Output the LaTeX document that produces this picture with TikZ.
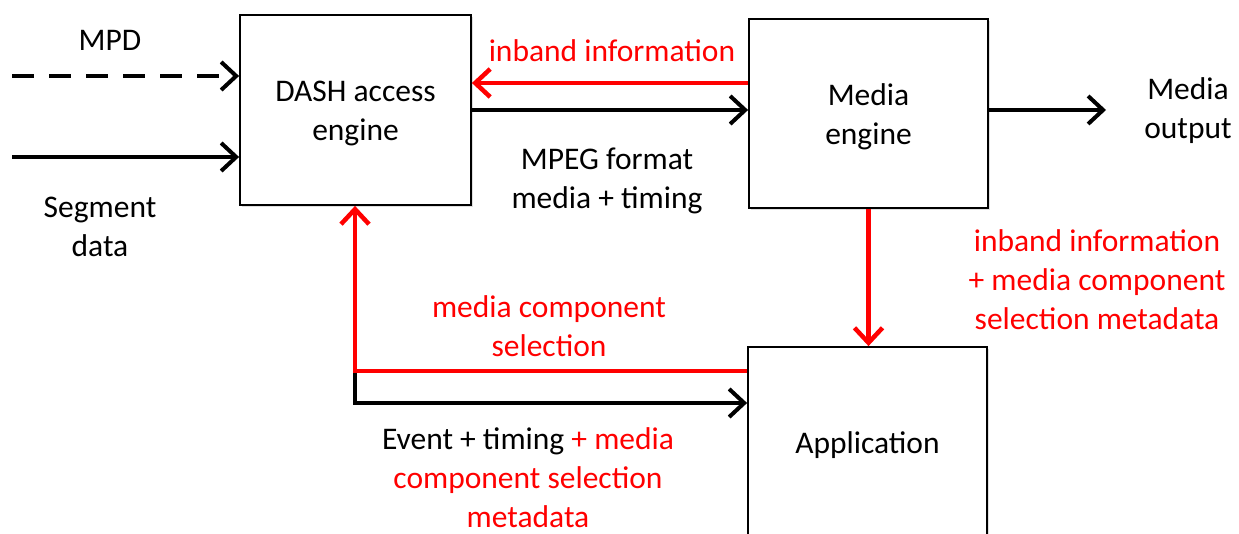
\documentclass[tikz,border=0pt]{standalone}
\usepackage{fontspec}
\setmainfont{Carlito}
\usetikzlibrary{arrows.meta,shadows}
\definecolor{myred}{RGB}{255,0,0}
\tikzset{
  blk/.style={draw=black,line width=1.8pt,fill=white,minimum width=231pt,minimum height=190pt,inner sep=0pt,
    drop shadow={opacity=0.25,shadow xshift=2pt,shadow yshift=-2pt}},
  lbl/.style={align=center,inner sep=0pt},
  conn/.style={line width=4pt,-{Straight Barb[length=15pt,width=28pt,line width=4pt]}},
  redconn/.style={conn,draw=myred,line width=4.5pt,-{Straight Barb[length=15pt,width=28pt,line width=4.5pt]}},
  dashconn/.style={conn,dash pattern=on 22pt off 15pt}
}
\begin{document}
\begin{tikzpicture}[x=1pt,y=-1pt,font=\fontsize{31.5}{39}\selectfont]
\useasboundingbox (0,0) rectangle (1239,534);
\clip (0,0) rectangle (1239,534);
\fill[white] (0,0) rectangle (1239,534);
% boxes
\node[blk] (dash) at (355.5,110) {};
\node[blk,minimum width=239pt,minimum height=189pt] (media) at (868.5,113.5) {};
\node[blk,minimum width=239pt,minimum height=192pt] (app) at (867.5,443) {};
\node[lbl] (dashtxt) at (355.5,113.5) {DASH access\\engine};
\node[lbl] (mediatxt) at (868.5,117) {Media\\engine};
\node[lbl] (apptxt) at (867.5,445) {Application};
% coordinates
\coordinate (mpdS) at (12,76);
\coordinate (segS) at (12,157);
\coordinate (outE) at (1106,110);
\coordinate (y83) at (0,83);
\coordinate (y110) at (0,110);
\coordinate (corner) at (355,371);
\coordinate (corner2) at (355,403);
% connectors
\draw[dashconn] (mpdS) -- (dash.west |- mpdS);
\draw[conn] (segS) -- (dash.west |- segS);
\draw[redconn] (media.west |- y83) -- (dash.east |- y83);
\draw[conn] (dash.east |- y110) -- (media.west |- y110);
\draw[conn] (media.east |- y110) -- (outE);
\draw[redconn] (media.south) -- (app.north -| media.south);
\draw[conn,line cap=round] ([yshift=-2pt]corner) -- (corner2) -- (app.west |- corner2);
\draw[redconn,line join=miter] (app.west |- corner) -- (corner) -- (dash.south -| corner);
% labels
\node[lbl] (mpd) at (110,40) {MPD};
\node[lbl] (seg) at (100,227) {Segment\\data};
\node[lbl,text=myred] (inb) at (612,51) {inband information};
\node[lbl] (mpeg) at (607,181) {MPEG format\\media + timing};
\node[lbl] (mout) at (1188,111) {Media\\output};
\node[lbl,text=myred] (inb2) at (1097,280) {inband information\\+ media component\\selection metadata};
\node[lbl,text=myred] (mcs) at (549,326) {media component\\selection};
\node[lbl] (evt) at (528,478) {Event + timing \textcolor{myred}{+ media}\\\textcolor{myred}{component selection}\\\textcolor{myred}{metadata}};
\end{tikzpicture}
\end{document}
